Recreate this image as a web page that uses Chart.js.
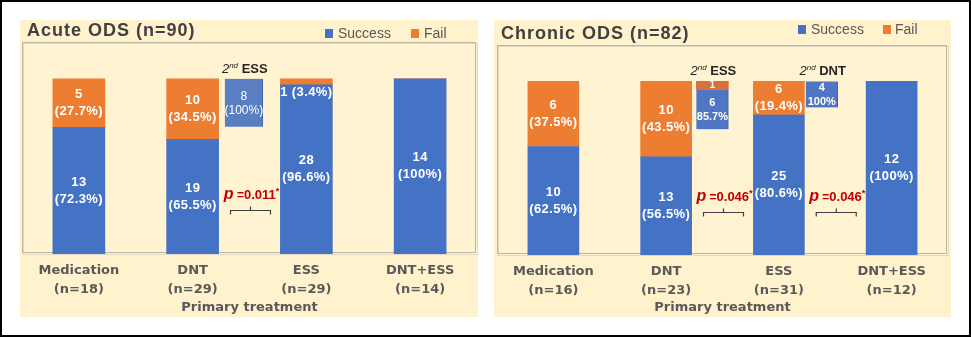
<!DOCTYPE html>
<html>
<head>
<meta charset="utf-8">
<script src="https://cdn.jsdelivr.net/npm/chart.js@4.4.1/dist/chart.umd.min.js"></script>
<style>
  html, body { margin: 0; padding: 0; background: #fff; }
  body { width: 971px; height: 338px; position: relative; overflow: hidden; font-family: 'Liberation Sans', Arial, sans-serif; }
  .frame { position: absolute; left: 0; top: 0; width: 967px; height: 333px; border: 2px solid #000; }
  .panel { position: absolute; top: 20px; height: 297px; background: #fff2cc; }
  .panel canvas { position: absolute; left: 0; top: 0; }
  .title { position: absolute; font-weight: bold; font-size: 18px; letter-spacing: 1px; color: #404040; line-height: 20px; white-space: nowrap; }
  .key { position: absolute; width: 8px; height: 9px; }
  .keytxt { position: absolute; font-size: 14px; color: #595959; line-height: 16px; white-space: nowrap; }
</style>
</head>
<body>
<div class="frame"></div>

<div class="panel" style="left:20px;width:458px;">
  <canvas id="acute" width="458" height="297"></canvas>
  <div class="title" style="left:7px;top:0px;">Acute ODS (n=90)</div>
  <div class="key" style="left:305px;top:9px;background:#4472c4;"></div>
  <div class="keytxt" style="left:318px;top:5px;">Success</div>
  <div class="key" style="left:391px;top:9px;background:#ed7d31;"></div>
  <div class="keytxt" style="left:404px;top:5px;">Fail</div>
</div>

<div class="panel" style="left:494px;width:457px;">
  <canvas id="chronic" width="457" height="297"></canvas>
  <div class="title" style="left:7px;top:3px;">Chronic ODS (n=82)</div>
  <div class="key" style="left:304px;top:5px;background:#4472c4;"></div>
  <div class="keytxt" style="left:317px;top:1px;">Success</div>
  <div class="key" style="left:389px;top:5px;background:#ed7d31;"></div>
  <div class="keytxt" style="left:401px;top:1px;">Fail</div>
</div>

<script>
const treatments = ['Medication', 'DNT', 'ESS', 'DNT+ESS'];

const acuteGroupN = [18, 29, 29, 14];
const acuteSuccessN = [13, 19, 28, 14];
const acuteSuccessPct = [72.3, 65.5, 96.6, 100];
const acuteFailN = [5, 10, 1, 0];
const acuteFailPct = [27.7, 34.5, 3.4, 0];

const chronicGroupN = [16, 23, 31, 12];
const chronicSuccessN = [10, 13, 25, 12];
const chronicSuccessPct = [62.5, 56.5, 80.6, 100];
const chronicFailN = [6, 10, 6, 0];
const chronicFailPct = [37.5, 43.5, 19.4, 0];

// second-line treatment boxes: place on the group axis (0..4) and range in %
const acuteInsetAt = [1.95];
const acuteInsetName = ['ESS'];
const acuteInsetSuccess = [[72.6, 100]];
const acuteInsetSuccessText = [['8', '(100%)']];
const acuteInsetFail = [null];
const acuteInsetFailText = [null];

const chronicInsetAt = [1.91, 2.88];
const chronicInsetName = ['ESS', 'DNT'];
const chronicInsetSuccess = [[72.4, 95.4], [85, 100]];
const chronicInsetSuccessText = [['6', '85.7%'], ['4', '100%']];
const chronicInsetFail = [[95.4, 100], null];
const chronicInsetFailText = [['1'], null];

// p-values between groups
const acutePAt = [2];
const acutePText = ['0.011'];
const chronicPAt = [2, 3];
const chronicPText = ['0.046', '0.046'];
const pLevel = 34;
const bracketLevel = 25;

const axisFont = { family: 'DejaVu Sans', weight: 'bold', size: 13, lineHeight: 1.4 };

function drawRich(ctx, parts, cx, cy) {
  let w = 0;
  parts.forEach(p => { ctx.font = p[1]; w += ctx.measureText(p[0]).width; });
  let x = cx - w / 2;
  ctx.textAlign = 'left';
  ctx.textBaseline = 'alphabetic';
  parts.forEach(p => {
    ctx.font = p[1];
    ctx.fillText(p[0], x, cy + 5 + (p[2] || 0));
    x += ctx.measureText(p[0]).width;
  });
}

const plotFrame = {
  id: 'plotFrame',
  beforeDatasetsDraw(chart) {
    const { ctx, chartArea: a } = chart;
    ctx.save();
    ctx.fillStyle = '#fff3d2';
    ctx.fillRect(a.left, a.top, a.width, a.height);
    ctx.lineWidth = 1;
    ctx.strokeStyle = '#e0d9c4';
    ctx.strokeRect(a.left + 1.5, a.top + 1.5, a.width - 1, a.height - 1);
    ctx.strokeStyle = '#bcb5a2';
    ctx.strokeRect(a.left + 0.5, a.top + 0.5, a.width - 2, a.height - 2);
    ctx.restore();
  }
};

function labelsPlugin(d) {
  return {
    id: 'labels',
    afterDatasetsDraw(chart) {
      const ctx = chart.ctx;
      ctx.save();
      ctx.fillStyle = '#fff';
      ctx.textAlign = 'center';
      ctx.textBaseline = 'middle';
      ctx.font = 'bold 13px "Liberation Sans", Arial';
      ctx.letterSpacing = '0.4px';
      [[d.successN, d.successPct], [d.failN, d.failPct]].forEach((s, di) => {
        chart.getDatasetMeta(di).data.forEach((bar, i) => {
          const n = s[0][i];
          if (!n) return;
          const pct = '(' + s[1][i] + '%)';
          if (bar.base - bar.y < 20) {
            ctx.fillText(n + ' ' + pct, bar.x, bar.base + 8);
          } else {
            const c = (bar.y + bar.base) / 2;
            ctx.fillText(String(n), bar.x, c - 8.5);
            ctx.fillText(pct, bar.x, c + 8.5);
          }
        });
      });
      ctx.letterSpacing = '0px';

      // inset boxes
      ctx.font = d.insetFont;
      chart.getDatasetMeta(2).data.forEach((bar, i) => {
        const t = d.insetSuccessText[i];
        const c = (bar.y + bar.base) / 2 + 1;
        ctx.fillText(t[0], bar.x, c - 7);
        ctx.fillText(t[1], bar.x, c + 7);
      });
      const failMeta = chart.getDatasetMeta(3);
      d.insetFailText.forEach((t, i) => {
        if (!t) return;
        const bar = failMeta.data[i];
        ctx.font = 'bold 10px "Liberation Sans", Arial';
        ctx.fillText(t[0], bar.x, (bar.y + bar.base) / 2);
      });

      // "2nd ..." headings
      const x = chart.scales.x, y = chart.scales.y, y2 = chart.scales.y2;
      ctx.fillStyle = '#262626';
      d.insetAt.forEach((at, i) => {
        drawRich(ctx, [
          ['2', 'italic 13px "Liberation Sans", Arial'],
          ['nd', 'italic 8px "Liberation Sans", Arial', -5],
          [' ' + d.insetName[i], 'bold 13px "Liberation Sans", Arial']
        ], x.getPixelForValue(at) + 1, y2.getPixelForValue(100) - 11);
      });

      // p-values and brackets
      d.pAt.forEach((at, i) => {
        const cx = x.getPixelForValue(at);
        ctx.fillStyle = '#c00000';
        drawRich(ctx, [
          ['p', 'bold italic 16px "Liberation Sans", Arial'],
          [' =', 'bold 12px "Liberation Sans", Arial'],
          [d.pText[i], 'bold 13px "Liberation Sans", Arial'],
          ['*', 'bold 9px "Liberation Sans", Arial', -5]
        ], cx + 2, y.getPixelForValue(pLevel));
        const by = Math.round(y.getPixelForValue(bracketLevel)) + 0.5;
        ctx.strokeStyle = '#404040';
        ctx.lineWidth = 1.2;
        ctx.beginPath();
        ctx.moveTo(cx - 19, by + 4);
        ctx.lineTo(cx - 19, by);
        ctx.lineTo(cx + 21, by);
        ctx.lineTo(cx + 21, by + 4);
        ctx.moveTo(cx + 1, by);
        ctx.lineTo(cx + 1, by - 4);
        ctx.stroke();
      });
      ctx.restore();
    }
  };
}

function makeChart(id, d) {
  // groups sit at the middle of each unit on a 0..4 axis
  const groupAt = treatments.map((t, i) => i + 0.5);
  const tickText = treatments.map((t, i) => [t, '(n=' + d.groupN[i] + ')']);
  const insetBase = { yAxisID: 'y2', grouped: false, barThickness: d.insetWidth };
  return new Chart(document.getElementById(id), {
    type: 'bar',
    data: {
      datasets: [
        {
          label: 'Success', backgroundColor: '#4472c4', barThickness: d.barWidth,
          data: d.successPct.map((v, i) => ({ x: groupAt[i], y: v }))
        },
        {
          label: 'Fail', backgroundColor: '#ed7d31', barThickness: d.barWidth,
          data: d.failPct.map((v, i) => ({ x: groupAt[i], y: v }))
        },
        {
          ...insetBase, label: '2nd success',
          data: d.insetAt.map((at, i) => ({ x: at, y: d.insetSuccess[i] })),
          backgroundColor: d.insetColor, borderColor: '#3f63a8', borderWidth: { right: 1, bottom: 1 }
        },
        {
          ...insetBase, label: '2nd fail',
          data: d.insetAt.map((at, i) => ({ x: at, y: d.insetFail[i] })),
          backgroundColor: '#d6703d'
        }
      ]
    },
    options: {
      responsive: false,
      animation: false,
      events: [],
      layout: { padding: d.padding },
      scales: {
        x: {
          type: 'linear',
          min: 0,
          max: 4,
          offset: false,
          stacked: true,
          grid: { display: false, drawTicks: false, offset: false },
          border: { display: false },
          afterBuildTicks: s => { s.ticks = groupAt.map(v => ({ value: v })); },
          ticks: {
            font: axisFont, color: '#595959', padding: 8, maxRotation: 0, autoSkip: false,
            callback: (v, i) => tickText[i]
          },
          title: {
            display: true, text: 'Primary treatment', color: '#595959',
            font: axisFont, padding: { top: 0, bottom: 0 }
          },
          afterFit: s => { s.height = d.axisHeight; }
        },
        y: { stacked: true, display: false, min: 0, max: 121 },
        y2: { type: 'linear', display: false, min: 0, max: 121 }
      },
      plugins: {
        legend: { display: false },
        tooltip: { enabled: false },
        title: { display: false }
      }
    },
    plugins: [plotFrame, labelsPlugin(d)]
  });
}

makeChart('acute', {
  groupN: acuteGroupN, successN: acuteSuccessN, successPct: acuteSuccessPct,
  failN: acuteFailN, failPct: acuteFailPct,
  insetAt: acuteInsetAt, insetName: acuteInsetName, insetSuccess: acuteInsetSuccess,
  insetSuccessText: acuteInsetSuccessText, insetFail: acuteInsetFail, insetFailText: acuteInsetFailText,
  pAt: acutePAt, pText: acutePText,
  barWidth: 52, insetWidth: 38, insetColor: '#5a7ec2', insetFont: '12px "Liberation Sans", Arial',
  padding: { left: 2, right: 1, top: 22, bottom: 0 }, axisHeight: 63
});

makeChart('chronic', {
  groupN: chronicGroupN, successN: chronicSuccessN, successPct: chronicSuccessPct,
  failN: chronicFailN, failPct: chronicFailPct,
  insetAt: chronicInsetAt, insetName: chronicInsetName, insetSuccess: chronicInsetSuccess,
  insetSuccessText: chronicInsetSuccessText, insetFail: chronicInsetFail, insetFailText: chronicInsetFailText,
  pAt: chronicPAt, pText: chronicPText,
  barWidth: 51, insetWidth: 32, insetColor: '#4f76c2', insetFont: 'bold 11px "Liberation Sans", Arial',
  padding: { left: 3, right: 3, top: 25, bottom: 0 }, axisHeight: 62
});
</script>
</body>
</html>
